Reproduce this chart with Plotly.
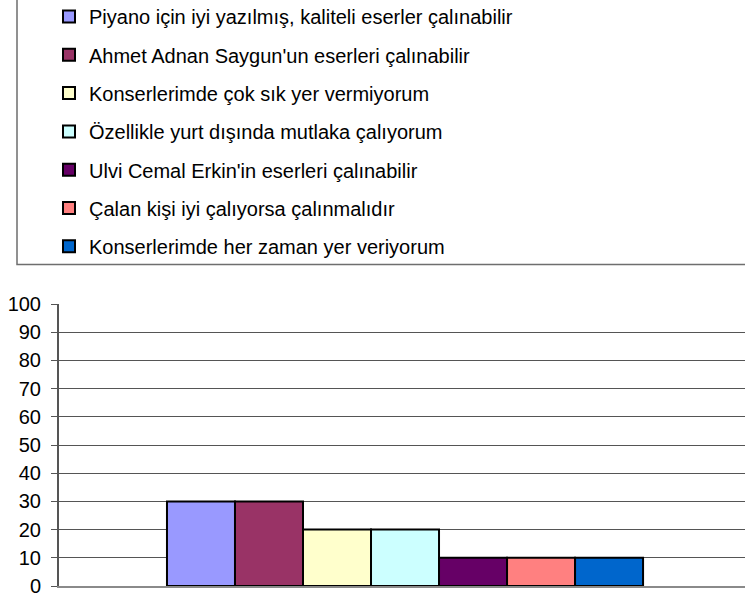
import plotly.graph_objects as go

# Survey answers and the share (%) of respondents giving each one
answers = [
    "Piyano için iyi yazılmış, kaliteli eserler çalınabilir",
    "Ahmet Adnan Saygun'un eserleri çalınabilir",
    "Konserlerimde çok sık yer vermiyorum",
    "Özellikle yurt dışında mutlaka çalıyorum",
    "Ulvi Cemal Erkin'in eserleri çalınabilir",
    "Çalan kişi iyi çalıyorsa çalınmalıdır",
    "Konserlerimde her zaman yer veriyorum",
]
percentages = [30, 30, 20, 20, 10, 10, 10]
bar_colors = ["#9999FF", "#993366", "#FFFFCC", "#CCFFFF", "#660066", "#FF8080", "#0066CC"]
y_ticks = list(range(0, 101, 10))

W, H = 745, 597
M_L, M_R, M_T, M_B = 59, 0, 304, 11
plot_w = W - M_L - M_R
plot_h = H - M_T - M_B


def px_to_paper_x(px):
    return (px - M_L) / plot_w


def px_to_paper_y(py):
    return (H - M_B - py) / plot_h


fig = go.Figure()
for i, (name, val, col) in enumerate(zip(answers, percentages, bar_colors)):
    fig.add_trace(go.Bar(
        x=[""],
        y=[val],
        name=name,
        legendgroup=f"g{i}",
        marker=dict(color=col, line=dict(color="#000000", width=2)),
        hoverinfo="name+y",
    ))

# legend frame (its top and right edges run off the page)
fig.add_shape(
    type="rect", xref="paper", yref="paper",
    x0=px_to_paper_x(17), x1=px_to_paper_x(W + 20),
    y0=px_to_paper_y(264.5), y1=px_to_paper_y(-20),
    line=dict(color="#6e6e6e", width=1.5), fillcolor="rgba(0,0,0,0)",
    layer="below",
)

fig.update_layout(
    width=W, height=H,
    margin=dict(l=M_L, r=M_R, t=M_T, b=M_B, autoexpand=False),
    paper_bgcolor="white", plot_bgcolor="white",
    barmode="group", bargap=0.306, bargroupgap=0,
    showlegend=True,
    legend=dict(
        x=px_to_paper_x(49), xanchor="left",
        y=px_to_paper_y(-3), yanchor="top",
        traceorder="grouped", tracegroupgap=9.3,
        font=dict(family="Liberation Sans, Arial", size=20, color="#000000"),
        bgcolor="rgba(0,0,0,0)", borderwidth=0,
    ),
    xaxis=dict(
        range=[-0.5044, 0.4956], showticklabels=False, ticks="",
        showgrid=False, zeroline=False,
        showline=True, linecolor="#8a8a8a", linewidth=2,
    ),
    yaxis=dict(
        range=[0, 100], tickvals=y_ticks, ticktext=[str(v) for v in y_ticks],
        showgrid=True, gridcolor="#555555", gridwidth=1,
        zeroline=False, showline=True, linecolor="#555555", linewidth=2,
        ticks="outside", ticklen=6, tickcolor="#555555", tickwidth=1,
        ticklabelstandoff=6,
        tickfont=dict(family="Liberation Sans, Arial", size=20, color="#000000"),
    ),
)

fig.write_html("out.html")
